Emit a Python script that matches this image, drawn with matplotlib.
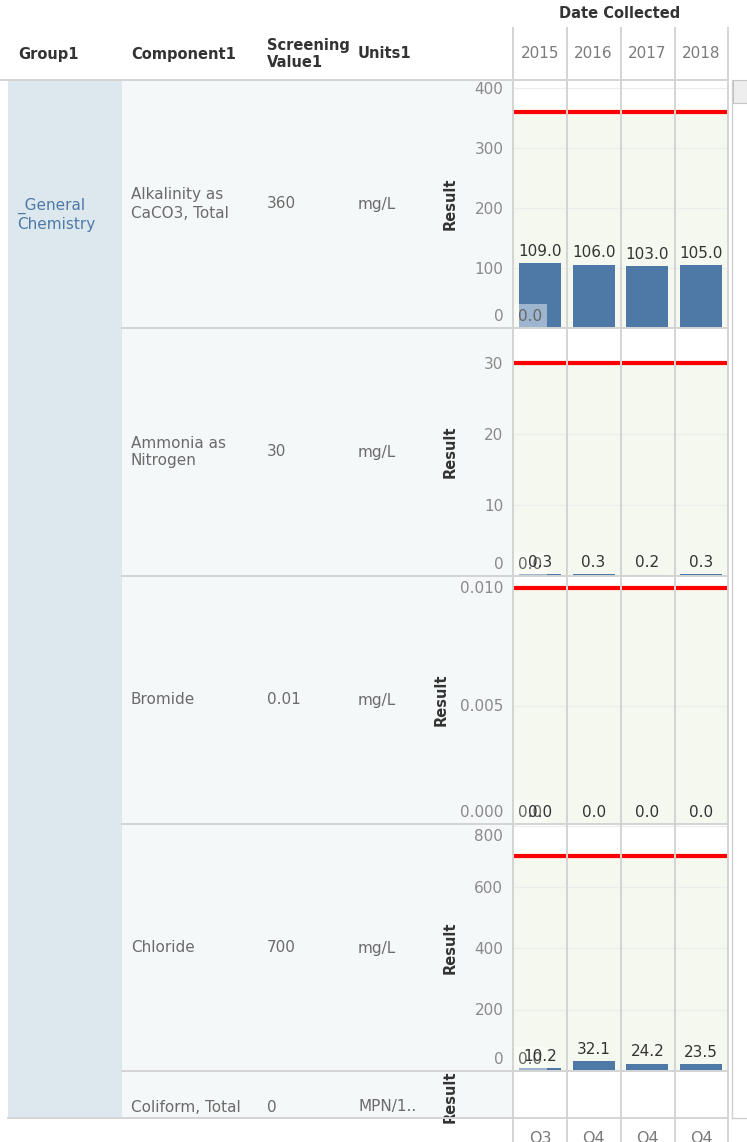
import matplotlib
matplotlib.use("Agg")
import matplotlib.pyplot as plt
import matplotlib.transforms as mtransforms
from matplotlib.patches import Rectangle
from matplotlib.lines import Line2D

plt.rcParams['font.family'] = ['DejaVu Sans']

# ---------------- data ----------------
years = ['2015', '2016', '2017', '2018']
quarters = ['Q3', 'Q4', 'Q4', 'Q4']
group_name = '_General\nChemistry'
components = ['Alkalinity as\nCaCO3, Total', 'Ammonia as\nNitrogen', 'Bromide',
              'Chloride', 'Coliform, Total']
screening_labels = ['360', '30', '0.01', '700', '0']
screening_values = [360, 30, 0.01, 700, 0]
units = ['mg/L', 'mg/L', 'mg/L', 'mg/L', 'MPN/1..']

alkalinity = [109.0, 106.0, 103.0, 105.0]
ammonia = [0.3, 0.3, 0.2, 0.3]
bromide = [0.0, 0.0, 0.0, 0.0]
chloride = [10.2, 32.1, 24.2, 23.5]
extra_2015 = [0.0, 0.0, 0.0, 0.0]   # second 2015 sample (overlapping label)

results = [alkalinity, ammonia, bromide, chloride]
y_max = [414, 35, 0.0105, 806]
y_ticks = [[0, 100, 200, 300, 400], [0, 10, 20, 30], [0, 0.005, 0.010], [0, 200, 400, 600, 800]]
y_tick_labels = [['0', '100', '200', '300', '400'], ['0', '10', '20', '30'],
                 ['0.000', '0.005', '0.010'], ['0', '200', '400', '600', '800']]

# ---------------- layout (pixels) ----------------
W, H = 747, 1142
fig = plt.figure(figsize=(W / 100, H / 100), dpi=100)
fig.patch.set_facecolor('white')


def fx(x):
    return x / W


def fy(y):
    return 1 - y / H


def frect(x0, y0, x1, y1, **kw):
    fig.add_artist(Rectangle((fx(x0), fy(y1)), (x1 - x0) / W, (y1 - y0) / H,
                             transform=fig.transFigure, **kw))


def fline(xs, ys, **kw):
    fig.add_artist(Line2D([fx(x) for x in xs], [fy(y) for y in ys],
                          transform=fig.transFigure, **kw))


PX0, PX1 = 513, 728
row_edges = [80, 328, 576, 824, 1071, 1118]
GRID = '#d4d4d4'
TXT = '#333333'
GRAY = '#6b6b6b'
TICK = '#8a8a8a'
BAR = '#4e79a7'
BAND = '#f5f8ee'
FS = 11

# backgrounds
frect(8, 80, 122, 1118, facecolor='#dde8ee', edgecolor='none', zorder=0)
frect(122, 80, PX0, 1118, facecolor='#f4f8f8', edgecolor='none', zorder=0)

axes = []
for i in range(5):
    top, bot = row_edges[i], row_edges[i + 1]
    ax = fig.add_axes([fx(PX0), fy(bot), (PX1 - PX0) / W, (bot - top) / H])
    ax.set_xlim(-0.5, 3.5)
    for s in ax.spines.values():
        s.set_visible(False)
    ax.set_xticks([])
    ax.set_yticks([])
    ax.set_facecolor('white')
    axes.append(ax)

for i in range(4):
    ax = axes[i]
    vals = results[i]
    sv = screening_values[i]
    ax.set_ylim(0, y_max[i])
    ax.axhspan(0, sv, color=BAND, zorder=0, lw=0)
    for t in y_ticks[i]:
        ax.axhline(t, color='#ececec', lw=0.8, zorder=0.5)
    x = list(range(len(years)))
    ax.bar(x, vals, width=0.78, color=BAR, zorder=2)
    ax.bar([0], [extra_2015[i]], width=0.78, color=BAR, zorder=2)
    ax.axhline(sv, color='#ff0000', lw=3.0, zorder=3)
    # value labels
    for xi, v in zip(x, vals):
        ax.annotate(f'{v:.1f}', (xi, v), xytext=(0, 3), textcoords='offset points',
                    ha='center', va='bottom', fontsize=FS, color=TXT, zorder=6,
                    annotation_clip=False)
    ax.annotate(f'{extra_2015[i]:.1f}', (0, extra_2015[i]), xytext=(-7, 3),
                textcoords='offset points', ha='center', va='bottom', fontsize=FS,
                color='#666666', zorder=5, annotation_clip=False,
                bbox=dict(boxstyle='square,pad=0.3', fc='white', ec='none', alpha=0.45))
    # y tick labels (Tableau style: keep inside the pane)
    ytr = ax.get_yaxis_transform()
    top, bot = row_edges[i], row_edges[i + 1]
    for t, lab in zip(y_ticks[i], y_tick_labels[i]):
        frac = t / y_max[i]
        dist_top = (1 - frac) * (bot - top)
        if t == 0:
            va, off = 'bottom', 4
        elif dist_top < 8:
            va, off = 'top', -3
        else:
            va, off = 'center', -1
        tr = ytr + mtransforms.ScaledTranslation(0, off / 100, fig.dpi_scale_trans)
        ax.text(-0.045, t, lab, transform=tr, ha='right', va=va,
                fontsize=FS, color=TICK, clip_on=False)

# header: years via the plot's x scale
htr = mtransforms.blended_transform_factory(axes[0].transData, fig.transFigure)
for xi, yr in enumerate(years):
    fig.text(xi, fy(54), yr, transform=htr, ha='center', va='center',
             fontsize=FS, color='#7a7a7a')
btr = mtransforms.blended_transform_factory(axes[4].transData, fig.transFigure)
for xi, q in enumerate(quarters):
    fig.text(xi, fy(1131), q, transform=btr, ha='center', va='top',
             fontsize=11.5, color='#7a7a7a')

fig.text(fx(620), fy(14), 'Date Collected', ha='center', va='center', fontsize=10.5,
         color=TXT, fontweight='bold')
fig.text(fx(18), fy(54), 'Group1', ha='left', va='center', fontsize=10.5,
         color=TXT, fontweight='bold')
fig.text(fx(131), fy(54), 'Component1', ha='left', va='center', fontsize=10.5,
         color=TXT, fontweight='bold')
fig.text(fx(267), fy(54), 'Screening\nValue1', ha='left', va='center', fontsize=10.5,
         color=TXT, fontweight='bold', linespacing=1.2)
fig.text(fx(358), fy(54), 'Units1', ha='left', va='center', fontsize=10.5,
         color=TXT, fontweight='bold')

# group label
fig.text(fx(17), fy(215), group_name, ha='left', va='center', fontsize=FS,
         color='#4e79a7', linespacing=1.25)

row_centers = [204, 452, 700, 948, 1107]
result_x = [450, 450, 441, 450]
for i in range(5):
    yc = row_centers[i]
    fig.text(fx(131), fy(yc), components[i], ha='left', va='center', fontsize=FS,
             color=GRAY, linespacing=1.25)
    fig.text(fx(267), fy(yc), screening_labels[i], ha='left', va='center',
             fontsize=FS, color=GRAY)
    fig.text(fx(358), fy(yc), units[i], ha='left', va='center', fontsize=FS,
             color=GRAY)
    if i < 4:
        fig.text(fx(result_x[i]), fy(yc), 'Result', ha='center', va='center',
                 rotation=90, fontsize=10.5, color=TXT, fontweight='bold')

# clipped "Result" for the last row
lab_ax = fig.add_axes([fx(430), fy(1142), 83 / W, (1142 - 1071) / H])
lab_ax.set_axis_off()
lab_ax.set_xlim(0, 1)
lab_ax.set_ylim(0, 1)
lab_ax.text(20 / 83, 1 - (1097 - 1071) / 71, 'Result', ha='center', va='center',
            rotation=90, fontsize=10.5, color=TXT, fontweight='bold', clip_on=True)

# grid / separators
for y in row_edges[1:5]:
    fline([122, PX1], [y, y], color=GRID, lw=1.4, zorder=10)
fline([0, PX1], [80, 80], color=GRID, lw=1.4, zorder=10)
fline([8, PX1], [1118, 1118], color=GRID, lw=1.4, zorder=10)
for xc in [513, 567, 621, 675, 728]:
    fline([xc, xc], [28, 1142], color=GRID, lw=1.4, zorder=10)

# scrollbar
fline([732, 732], [80, 1118], color='#cfcfcf', lw=1.0, zorder=10)
fline([732, 747], [1118, 1118], color='#cfcfcf', lw=1.0, zorder=10)
frect(733, 80, 747, 103, facecolor='#eeeeee', edgecolor='#c4c4c4', lw=0.8, zorder=11)

fig.savefig('out.png', dpi=100)
